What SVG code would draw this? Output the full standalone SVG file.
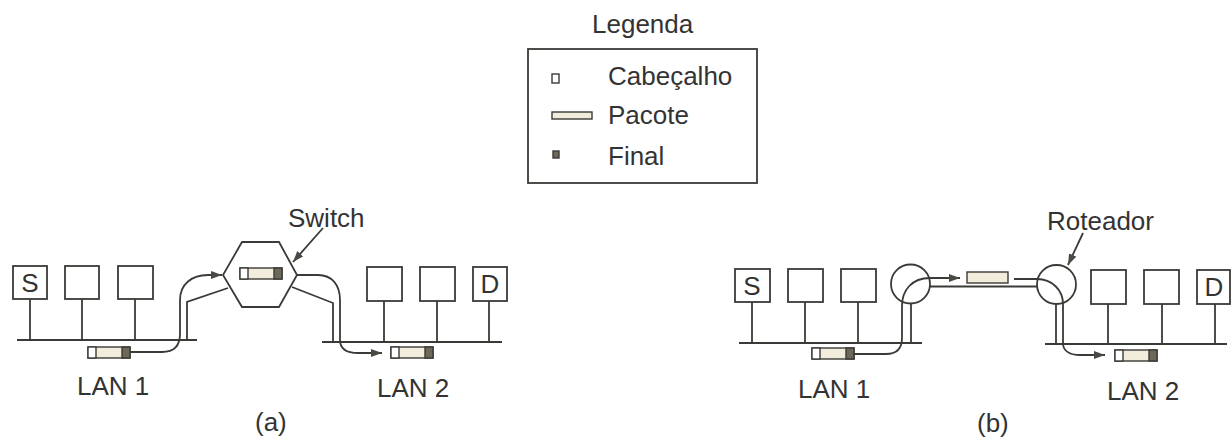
<svg xmlns="http://www.w3.org/2000/svg" width="1232" height="440" viewBox="0 0 1232 440">
<style>
.ln{fill:none;stroke:#3a3a36;stroke-width:1.8}
.box{fill:#fff;stroke:#3a3a36;stroke-width:1.8}
.tx{font-family:"Liberation Sans",Arial,sans-serif;font-size:26px;fill:#333}
.pk{fill:#f1ecdc;stroke:#3a3a36;stroke-width:1.4}
.hd{fill:#fff;stroke:#3a3a36;stroke-width:1.4}
.en{fill:#6e685a;stroke:#3a3a36;stroke-width:1.4}
</style>
<defs>
<marker id="ar" markerUnits="userSpaceOnUse" markerWidth="12" markerHeight="10" refX="11" refY="4" orient="auto">
<path d="M0,0 L11,4 L0,8 Z" fill="#4a4a44"/>
</marker>
<g id="pkt">
<rect class="pk" x="0" y="0" width="42" height="11"/>
<rect class="hd" x="0" y="0" width="8" height="11"/>
<rect class="en" x="34" y="0" width="8" height="11"/>
</g>
</defs>
<rect width="1232" height="440" fill="#fff"/>

<g id="legend">
<text class="tx" x="592" y="33">Legenda</text>
<rect class="box" x="528" y="49" width="229" height="134"/>
<rect class="hd" x="552" y="74" width="7" height="9"/>
<text class="tx" x="608" y="85">Cabeçalho</text>
<rect class="pk" x="552" y="112" width="40" height="7"/>
<text class="tx" x="608" y="124">Pacote</text>
<rect class="en" x="553" y="151" width="6" height="7"/>
<text class="tx" x="608" y="165">Final</text>
</g>

<!-- (a) -->
<g id="a-lan1">
<line class="ln" x1="17" y1="340" x2="197" y2="340"/>
<line class="ln" x1="30" y1="299" x2="30" y2="340"/>
<line class="ln" x1="82" y1="299" x2="82" y2="340"/>
<line class="ln" x1="135" y1="299" x2="135" y2="340"/>
<text class="tx" x="77" y="395">LAN 1</text>
</g>
<g id="a-S"><rect class="box" x="13" y="266" width="34" height="33"/><text class="tx" x="30" y="292" text-anchor="middle">S</text></g>
<g id="a-h2"><rect class="box" x="65" y="266" width="34" height="33"/></g>
<g id="a-h3"><rect class="box" x="118" y="266" width="35" height="33"/></g>
<g id="a-pkt1"><use href="#pkt" x="88" y="347"/></g>

<g id="a-switch">
<polygon class="box" points="242,242 279,242 297,275 279,307 242,307 223,275"/>
<use href="#pkt" x="240" y="268"/>
<text class="tx" x="288" y="227">Switch</text>
</g>

<g id="a-lan2">
<line class="ln" x1="322" y1="342" x2="502" y2="342"/>
<line class="ln" x1="384" y1="301" x2="384" y2="342"/>
<line class="ln" x1="437" y1="301" x2="437" y2="342"/>
<line class="ln" x1="489" y1="301" x2="489" y2="342"/>
<text class="tx" x="377" y="397">LAN 2</text>
</g>
<g id="a-h4"><rect class="box" x="367" y="267" width="35" height="34"/></g>
<g id="a-h5"><rect class="box" x="420" y="267" width="35" height="34"/></g>
<g id="a-D"><rect class="box" x="473" y="267" width="34" height="34"/><text class="tx" x="490" y="293" text-anchor="middle">D</text></g>
<g id="a-pkt2"><use href="#pkt" x="391" y="347"/></g>
<text class="tx" x="255" y="431">(a)</text>

<!-- (b) -->
<g id="b-lan1">
<line class="ln" x1="739" y1="343" x2="922" y2="343"/>
<line class="ln" x1="752" y1="302" x2="752" y2="343"/>
<line class="ln" x1="805" y1="302" x2="805" y2="343"/>
<line class="ln" x1="858" y1="302" x2="858" y2="343"/>
<text class="tx" x="798" y="398">LAN 1</text>
</g>
<g id="b-S"><rect class="box" x="735" y="269" width="35" height="33"/><text class="tx" x="752" y="295" text-anchor="middle">S</text></g>
<g id="b-h2"><rect class="box" x="788" y="269" width="35" height="33"/></g>
<g id="b-h3"><rect class="box" x="841" y="269" width="35" height="33"/></g>
<g id="b-pkt1"><use href="#pkt" x="812" y="348"/></g>

<g id="b-router1"><circle class="box" cx="910.5" cy="284" r="19.5"/></g>
<g id="b-router2">
<circle class="box" cx="1056.5" cy="284.5" r="19.5"/>
<text class="tx" x="1047" y="230">Roteador</text>
</g>
<g id="b-pkt-mid"><rect class="pk" x="967" y="272" width="41" height="11"/></g>

<g id="b-lan2">
<line class="ln" x1="1045" y1="344" x2="1227" y2="344"/>
<line class="ln" x1="1108" y1="304" x2="1108" y2="344"/>
<line class="ln" x1="1162" y1="304" x2="1162" y2="344"/>
<line class="ln" x1="1215" y1="304" x2="1215" y2="344"/>
<text class="tx" x="1107" y="400">LAN 2</text>
</g>
<g id="b-h4"><rect class="box" x="1091" y="270" width="35" height="34"/></g>
<g id="b-h5"><rect class="box" x="1144" y="270" width="35" height="34"/></g>
<g id="b-D"><rect class="box" x="1197" y="270" width="33" height="34"/><text class="tx" x="1214" y="296" text-anchor="middle">D</text></g>
<g id="b-pkt2"><use href="#pkt" x="1115" y="350"/></g>
<text class="tx" x="977" y="432">(b)</text>

<g id="connectors">
<path class="ln" d="M130,352 H162 C174,352 180,346 180,334 V300 C180,284 192,275 208,275 H222" marker-end="url(#ar)"/>
<path class="ln" d="M187,340 V302 L228,288"/>
<path class="ln" d="M297,275 H318 C332,275 340,285 340,300 V340 C340,349 346,353 358,353 H382" marker-end="url(#ar)"/>
<path class="ln" d="M292,287 L333,303 V342"/>
<path class="ln" d="M323,228 L293,262" marker-end="url(#ar)"/>

<path class="ln" d="M853,354 H886 C897,354 902,348 902,338 V306 C902,290 912,278 930,278 H960" marker-end="url(#ar)"/>
<path class="ln" d="M911,303.5 V343"/>
<path class="ln" d="M930,286.5 H1037"/>
<path class="ln" d="M1014,279 H1037 C1052,279 1063,290 1063,304 V343 C1063,351 1070,355 1080,355 H1105" marker-end="url(#ar)"/>
<path class="ln" d="M1056,304 V344"/>
<path class="ln" d="M1083,233 L1068,265" marker-end="url(#ar)"/>
</g>
</svg>
